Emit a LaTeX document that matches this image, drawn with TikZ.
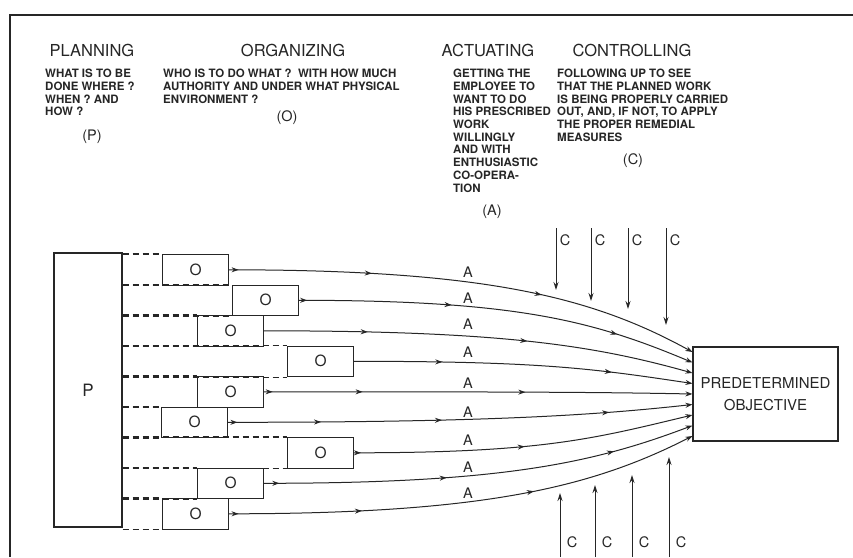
\documentclass[tikz,border=0pt]{standalone}
\usepackage{fontspec}
\setmainfont{TeX Gyre Heros}
\usetikzlibrary{arrows.meta,decorations.markings}

\tikzset{
  head/.style={font=\fontsize{16.5}{18}\selectfont},
  body/.style={font=\bfseries\fontsize{11.5}{12.7}\selectfont, align=left, anchor=north west, inner sep=0pt},
  tag/.style={font=\fontsize{14.5}{14.5}\selectfont},
  obox/.style={draw, line width=1.1pt, minimum width=66pt, minimum height=30.5pt, fill=white,
    inner sep=0pt, anchor=north west, font=\fontsize{15.5}{15.5}\selectfont},
  pline/.style={line width=1.1pt, dash pattern=on 6pt off 4pt},
  flow/.style={line width=1pt, -{Stealth[length=7pt,width=5pt]}},
  midarrow/.style={postaction={decorate, decoration={markings,
    mark=at position #1 with {\arrow{Stealth[length=7pt,width=5pt]}}}}},
  ctrl/.style={line width=1pt, -{Stealth[length=8pt,width=5pt]}},
}

\begin{document}
\begin{tikzpicture}[x=1pt, y=-1pt, black!85]

\useasboundingbox (0,0) rectangle (853,557);
\fill[white] (0,0) rectangle (853,557);

% cadre
\draw[line width=1.6pt] (10,557) -- (10,15) -- (853,15);

% titres et textes
\node[head] (planning) at (92,50) {PLANNING};
\node[head] (organizing) at (293,50) {ORGANIZING};
\node[head] (actuating) at (488,50) {ACTUATING};
\node[head] (controlling) at (632,50) {CONTROLLING};

\node[body] (ptext) at (45,69) {WHAT IS TO BE\\DONE WHERE ?\\WHEN ? AND\\HOW ?};
\node[body] (otext) at (163,69) {WHO IS TO DO WHAT ?\ \ WITH HOW MUCH\\AUTHORITY AND UNDER WHAT PHYSICAL\\ENVIRONMENT ?};
\node[body] (atext) at (453,69) {GETTING THE\\EMPLOYEE TO\\WANT TO DO\\HIS PRESCRIBED\\WORK\\WILLINGLY\\AND WITH\\ENTHUSIASTIC\\CO-OPERA-\\TION};
\node[body] (ctext) at (557,69) {FOLLOWING UP TO SEE\\THAT THE PLANNED WORK\\IS BEING PROPERLY CARRIED\\OUT, AND, IF NOT, TO APPLY\\THE PROPER REMEDIAL\\MEASURES};

\node[tag] (ptag) at (92,137) {(P)};
\node[tag] (otag) at (287,118) {(O)};
\node[tag] (atag) at (492,212) {(A)};
\node[tag] (ctag) at (633,161) {(C)};

% planification et objectif
\node[draw, line width=1.1pt, minimum width=68pt, minimum height=274pt,
  font=\fontsize{17}{17}\selectfont] (plan) at (88,390) {P};
\node[draw, line width=1.1pt, minimum width=145pt, minimum height=94pt, align=center,
  font=\fontsize{15}{22}\selectfont] (obj) at (765.5,394) {PREDETERMINED\\OBJECTIVE};

% organisation
\node[obox] (o1) at (162,254) {O};
\node[obox] (o2) at (232,284.5) {O};
\node[obox] (o3) at (197,315) {O};
\node[obox] (o4) at (287,345.5) {O};
\node[obox] (o5) at (197,376) {O};
\node[obox] (o6) at (161,406.5) {O};
\node[obox] (o7) at (287,437) {O};
\node[obox] (o8) at (197,467.5) {O};
\node[obox] (o9) at (162,498) {O};

\foreach \i in {1,...,9}{
  \draw[pline] (plan.east |- o\i.north west) -- (o\i.north west);
  \draw[pline] (plan.east |- o\i.south west) -- (o\i.south west);
}

% actuation
\draw[flow, midarrow=0.02, midarrow=0.30, midarrow=0.66]
  (o1.east) .. controls +(256,0) and +(-100,-55) .. ([yshift=42pt]obj.west);
\draw[flow, midarrow=0.02, midarrow=0.38, midarrow=0.80]
  (o2.east) .. controls +(217,0) and +(-100,-42) .. ([yshift=31.5pt]obj.west);
\draw[flow, midarrow=0.24, midarrow=0.61]
  (o3.east) .. controls +(236,0) and +(-100,-28) .. ([yshift=21pt]obj.west);
\draw[flow, midarrow=0.26, midarrow=0.76]
  (o4.east) .. controls +(187,0) and +(-100,-15) .. ([yshift=10.5pt]obj.west);
\draw[flow, midarrow=0.02, midarrow=0.23, midarrow=0.61]
  (o5.east) .. controls +(236,0) and +(-100,-2) .. (obj.west);
\draw[flow, midarrow=0.02, midarrow=0.2, midarrow=0.46, midarrow=0.82]
  (o6.east) .. controls +(256,0) and +(-100,11) .. ([yshift=-10.5pt]obj.west);
\draw[flow, midarrow=0.02, midarrow=0.5]
  (o7.east) .. controls +(187,0) and +(-100,24) .. ([yshift=-21pt]obj.west);
\draw[flow, midarrow=0.035, midarrow=0.42, midarrow=0.81]
  (o8.east) .. controls +(236,0) and +(-100,38) .. ([yshift=-31.5pt]obj.west);
\draw[flow, midarrow=0.02, midarrow=0.28, midarrow=0.645]
  (o9.east) .. controls +(256,0) and +(-100,51) .. ([yshift=-42pt]obj.west);

\foreach \y [count=\k] in {272,298,324,352,383,412,440,467,493}
  \node[tag] (a\k) at (468,\y) {A};

% controle
\foreach \x/\t [count=\k] in {556/290,591/301,628/309,666/325}{
  \coordinate (ctop\k) at (\x,228);
  \coordinate (ctip\k) at (\x,\t);
  \draw[ctrl] (ctop\k) -- (ctip\k);
  \node[tag] (cu\k) at (\x+9,240) {C};
}
\foreach \x/\t [count=\k] in {560/493,595/485,632/475,669/457}{
  \coordinate (cbot\k) at (\x,557);
  \coordinate (cend\k) at (\x,\t);
  \draw[ctrl] (cbot\k) -- (cend\k);
  \node[tag] (cd\k) at (\x+12,542) {C};
}

\end{tikzpicture}
\end{document}
